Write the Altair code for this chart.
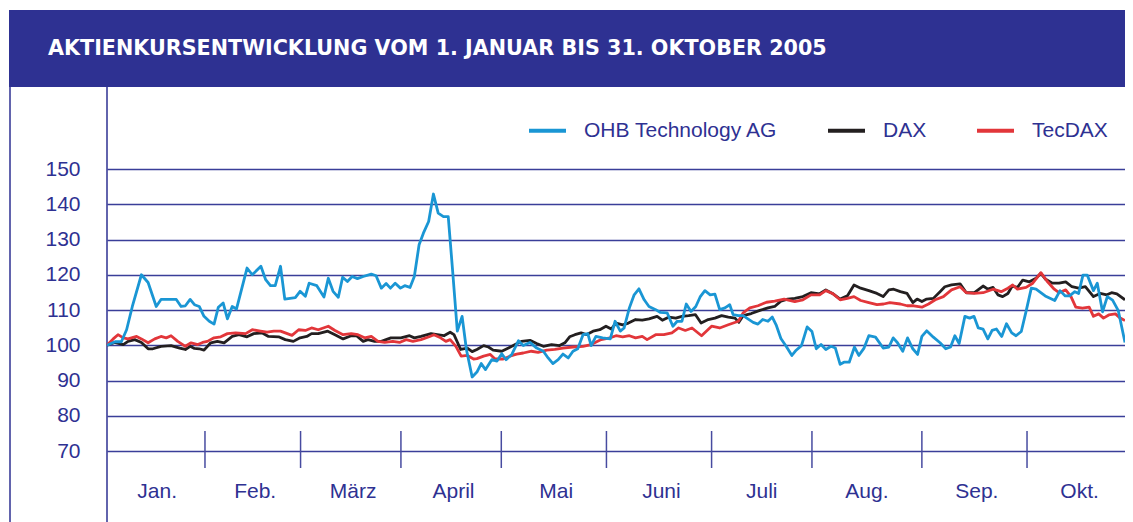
import altair as alt
import pandas as pd

TITLE = "AKTIENKURSENTWICKLUNG VOM 1. JANUAR BIS 31. OKTOBER 2005"
SERIES = ["OHB Technology AG", "DAX", "TecDAX"]
COLORS = ["#1A96D4", "#231F20", "#E2363A"]
MONTHS = ["Jan.", "Feb.", "März", "April", "Mai", "Juni", "Juli", "Aug.", "Sep.", "Okt."]
MONTH_CENTER = [10.5, 31, 51.5, 72.5, 94, 116, 137, 159, 182, 203.5]   # trading day index
MONTH_BOUND = [20.5, 40.5, 61.5, 82.5, 104.5, 126.5, 147.5, 170.5, 192.5]
Y_TICKS = [70, 80, 90, 100, 110, 120, 130, 140, 150]

ohb_day = [0.0, 1.7, 3.0, 4.1, 5.3, 7.2, 8.6, 10.3, 11.3, 14.5, 15.5, 16.4, 17.4, 18.3, 19.3, 20.3, 21.4, 22.4,
           23.3, 24.3, 25.2, 26.2, 27.1, 29.3, 30.4, 32.2, 33.2, 34.2, 35.2, 36.3, 37.2, 39.4, 40.4, 41.5, 42.3,
           43.9, 45.4, 46.3, 47.3, 48.4, 49.3, 50.3, 51.3, 52.4, 53.6, 55.3, 56.3, 57.4, 58.4, 59.3, 60.3, 61.4,
           62.3, 63.4, 64.3, 65.3, 66.2, 67.3, 68.3, 69.3, 70.4, 71.4, 72.3, 73.3, 74.3, 75.2, 76.4, 77.4, 78.3,
           79.2, 80.5, 81.6, 82.6, 83.5, 84.7, 86.1, 87.1, 88.5, 89.9, 91.3, 92.3, 93.3, 94.4, 95.4, 96.5, 97.5,
           98.5, 99.6, 100.6, 101.3, 102.3, 103.7, 105.3, 106.3, 107.4, 108.2, 109.3, 110.3, 111.3, 112.4, 113.4,
           114.8, 115.8, 117.2, 118.4, 119.3, 120.3, 121.2, 122.2, 123.2, 124.1, 125.1, 126.2, 127.2, 128.2,
           129.3, 130.3, 131.0, 132.1, 133.1, 134.1, 135.2, 136.2, 137.2, 138.3, 139.2, 140.0, 141.0, 142.1,
           143.3, 144.2, 145.3, 146.5, 147.5, 148.4, 149.4, 150.4, 151.5, 152.4, 153.4, 154.2, 155.3, 156.4,
           157.3, 158.4, 159.4, 160.8, 162.4, 163.6, 164.5, 165.4, 166.5, 167.5, 168.6, 169.6, 170.5, 171.5,
           172.9, 174.3, 175.5, 176.5, 177.4, 178.3, 179.5, 180.5, 181.4, 182.3, 183.3, 184.3, 185.2, 186.1,
           187.2, 188.2, 189.3, 190.2, 191.3, 192.3, 193.4, 194.4, 196.3, 198.3, 199.4, 200.5, 201.4, 202.5,
           203.3, 204.2, 205.1, 206.4, 207.2, 208.3, 209.3, 210.4, 211.6, 213.0]
ohb_val = [100, 101, 101, 104.4, 111, 120, 117.8, 111, 113, 113, 111, 111.2, 113, 111.5, 111, 108.2, 106.8, 106,
           110.8, 112, 107.5, 111, 110.3, 121.9, 120, 122.4, 118.6, 116.9, 116.9, 122.4, 113.1, 113.5, 115.3, 113.9,
           117.6, 116.9, 113.7, 119, 115.3, 113.6, 119.3, 118.1, 119.5, 118.9, 119.5, 120.2, 119.7, 116.2, 117.5,
           116.2, 117.6, 116.2, 116.9, 116.4, 119.5, 128.5, 131.8, 135.1, 142.9, 137.5, 136.5, 136.5, 121.4, 104,
           108.2, 98.8, 91, 92.4, 94.8, 93.1, 95.9, 95.5, 97.6, 95.9, 97.4, 101.3, 99.9, 100.8, 99.2, 98.3, 96.4,
           94.8, 95.9, 97.5, 96.4, 98.3, 99, 103, 103.3, 99.9, 102.5, 102.1, 101.8, 106.8, 104, 104.9, 110.6,
           114.3, 116, 112.9, 111, 110.1, 109.3, 109.2, 105.4, 106.8, 106.8, 111.7, 109.6, 111, 113.7, 115.5,
           114.3, 114.5, 110.1, 110.6, 111.5, 108.7, 108.4, 108.4, 107.5, 106.5, 106, 107.3, 106.8, 108, 105.8,
           101.9, 99.7, 97.1, 98.6, 99.9, 105.2, 103.9, 99, 100.2, 98.8, 99.7, 99.2, 94.6, 95.2, 95.2, 99.5,
           97.1, 99.2, 102.7, 102.3, 99.2, 99.5, 102.1, 100.7, 98.3, 102.1, 99, 97.4, 102.5, 104.1, 102.3,
           100.7, 99, 99.5, 102.7, 100.5, 108.2, 107.7, 108.2, 104.9, 104.6, 101.8, 104.2, 104.6, 102.5, 106.1,
           103.5, 102.7, 103.9, 109.6, 116.2, 115.9, 114, 112.7, 115.5, 114, 114, 115.2, 114.7, 119.9, 119.9,
           115.5, 117.6, 109.5, 113.8, 112.8, 109.8, 100.8]

dax_day = [0, 1.6, 3.4, 4.4, 5.8, 7.2, 8.6, 9.6, 11.3, 13.4, 15.2, 16.4, 17.4, 18.3, 19.3, 20.3, 21.7, 23.1, 24.5,
           26.2, 27.6, 29.3, 30.7, 32.5, 33.8, 35.9, 37.3, 39.0, 40.4, 41.8, 42.8, 44.2, 46.2, 47.7, 49.4, 51.1,
           52.2, 53.6, 54.6, 56.0, 57.4, 58.4, 59.4, 61.5, 63.3, 64.3, 65.7, 67.8, 69.1, 70.5, 71.8, 72.6, 74.0,
           75.4, 76.4, 77.4, 78.8, 79.8, 80.8, 82.6, 84.0, 85.4, 86.7, 88.5, 89.9, 91.3, 93.0, 94.7, 95.8, 96.8,
           97.9, 99.2, 100.3, 101.7, 103.1, 104.4, 105.5, 106.5, 107.9, 109.1, 110.6, 112.0, 113.4, 115.1, 116.2,
           117.6, 119.0, 120.3, 121.7, 123.1, 124.3, 125.8, 127.2, 128.6, 130.0, 131.4, 132.2, 133.1, 134.8,
           136.6, 138.3, 139.7, 141.0, 142.4, 143.9, 145.6, 147.3, 149.1, 150.4, 151.8, 153.4, 154.9, 156.3,
           157.7, 159.4, 161.1, 162.4, 163.6, 164.6, 166.0, 167.4, 168.6, 169.5, 170.5, 171.5, 172.9, 174.3,
           175.3, 176.7, 178.5, 179.8, 181.5, 183.3, 184.3, 185.4, 186.4, 187.4, 188.5, 189.4, 190.5, 191.6,
           193.0, 194.4, 195.4, 196.4, 197.8, 199.2, 200.6, 201.9, 203.3, 204.7, 206.4, 207.8, 209.2, 210.2,
           211.3, 213.0]
dax_val = [100, 100.8, 100.2, 101.1, 101.6, 100.8, 99, 99, 99.7, 99.9, 99.2, 98.8, 99.7, 99.1, 99, 98.6, 100.7,
           101.1, 100.7, 102.5, 103, 102.4, 103.3, 103.5, 102.5, 102.4, 101.6, 101.1, 102.1, 102.5, 103.3, 103.3,
           104, 103, 101.8, 102.7, 102.7, 101.1, 101.6, 101.1, 101.1, 101.6, 102.1, 102.1, 102.7, 102.1, 102.5,
           103.3, 103, 102.7, 103.7, 103, 98.8, 99.2, 98.2, 98.8, 99.9, 99.5, 98.6, 98.3, 99.2, 100.2, 101.1,
           101.4, 100.5, 99.7, 100.2, 99.9, 100.7, 102.4, 103, 103.5, 103, 104, 104.4, 105.4, 104.6, 106.3,
           105.8, 106.3, 107.3, 107.1, 107.5, 108.2, 107.1, 108, 107.7, 108.2, 108.4, 108.7, 106.3, 107.3,
           107.7, 108.4, 108, 107.7, 106.5, 108.4, 109, 109.9, 110.6, 111, 112.5, 113.1, 113.3, 113.8, 114.9,
           114.6, 115.7, 114.7, 113.1, 114, 117.1, 116.2, 115.5, 114.7, 113.8, 115.7, 115.9, 115.2, 114.7,
           112.1, 113.1, 112.4, 113.1, 113.3, 115.2, 116.6, 117.1, 117.4, 114.9, 114.9, 116.8, 115.9, 116.4,
           114.3, 113.8, 114.7, 116.8, 116.4, 118.5, 118, 119, 120.4, 118.7, 117.6, 117.6, 118, 116.6, 116.2,
           116.6, 113.8, 114.7, 114.3, 114.9, 114.6, 112.9]

tec_day = [0, 1.3, 2.3, 3.4, 4.4, 6.2, 7.2, 8.6, 10.0, 11.3, 12.4, 13.4, 14.8, 16.4, 17.6, 19.0, 20.0, 21.0, 22.4,
           23.8, 25.2, 26.9, 29.0, 30.4, 32.1, 33.5, 34.9, 36.3, 37.3, 38.7, 40.1, 41.5, 42.8, 44.2, 46.3, 47.7,
           49.4, 51.1, 52.5, 53.9, 55.3, 56.7, 58.1, 59.8, 61.2, 62.6, 64.0, 65.7, 67.4, 68.4, 69.8, 70.9, 71.8,
           73.0, 74.1, 75.4, 76.7, 77.4, 78.8, 80.2, 81.2, 82.9, 84.3, 85.7, 87.1, 88.8, 90.2, 92.0, 93.7, 95.4,
           97.5, 99.6, 101.3, 103.4, 105.2, 106.5, 107.9, 109.3, 110.6, 112.0, 113.0, 114.8, 116.5, 118.2, 119.6,
           121.0, 122.4, 124.4, 126.5, 128.2, 130.0, 132.1, 133.1, 134.5, 136.2, 138.0, 139.7, 141.7, 143.9,
           145.6, 147.3, 149.1, 150.4, 151.8, 153.4, 154.9, 156.3, 157.7, 159.4, 161.1, 162.5, 163.8, 166.0,
           167.4, 168.8, 170.5, 171.9, 173.3, 175.0, 176.7, 178.5, 179.8, 181.5, 183.3, 185.4, 187.1, 188.5,
           189.5, 190.5, 192.3, 193.7, 195.4, 196.8, 198.2, 199.2, 200.6, 201.7, 202.7, 204.1, 205.5, 206.4,
           207.5, 208.5, 209.6, 211.0, 212.0, 213.0]
tec_val = [100, 101.8, 103, 102.1, 101.8, 102.5, 101.8, 100.7, 101.8, 102.5, 102.1, 102.7, 101.1, 99.7, 100.7,
           100.2, 100.8, 101.1, 102.1, 102.4, 103.3, 103.5, 103.3, 104.4, 104, 103.7, 104, 104, 103.5, 102.8,
           104.4, 104.2, 104.9, 104.4, 105.4, 104.2, 103, 103.3, 103, 102.1, 102.5, 101.1, 100.8, 101.1, 100.8,
           101.6, 101.1, 101.6, 102.4, 103, 102.1, 101.1, 101.6, 99.7, 96.9, 97.1, 96.1, 96.2, 96.9, 97.4, 96.1,
           96.1, 96.9, 97.5, 97.8, 98.3, 98, 98.6, 98.8, 99.2, 99.5, 99.7, 100.2, 101.6, 102.1, 102.7, 102.4,
           102.7, 102.1, 102.5, 101.6, 103, 103, 103.5, 104.9, 104.2, 104.9, 102.7, 105.4, 104.9, 105.8, 106.8,
           109.2, 110.6, 111.2, 112.2, 112.5, 113.1, 112.4, 112.9, 114.3, 114.3, 115.5, 114.7, 112.9, 113.3,
           113.8, 112.7, 112.1, 111.5, 111.7, 112.1, 111.7, 111.2, 111.2, 110.8, 111.7, 112.9, 113.8, 115.7,
           116.6, 114.9, 114.7, 114.9, 115.9, 115.2, 116.2, 117.1, 115.9, 116.4, 117.6, 120.6, 118, 115.9,
           114.9, 115.7, 113.8, 110.8, 110.5, 110.8, 108.2, 108.9, 107.7, 108.6, 108.9, 107.7, 107]

INK = "#2E3192"
W, H = 1018, 282
FS = 21

rows = []
for name, days, vals in [(SERIES[0], ohb_day, ohb_val), (SERIES[1], dax_day, dax_val), (SERIES[2], tec_day, tec_val)]:
    for d, v in zip(days, vals):
        rows.append({"day": d, "value": v, "series": name})
df = pd.DataFrame(rows)

xscale = alt.Scale(domain=[0, 213], nice=False, zero=False)
yscale = alt.Scale(domain=[70, 150], nice=False, zero=False)
color = alt.Color(
    "series:N",
    scale=alt.Scale(domain=SERIES, range=COLORS),
    legend=alt.Legend(
        orient="none", legendX=420, legendY=-59, direction="horizontal", title=None,
        symbolType="stroke", symbolSize=1369, symbolStrokeWidth=4, labelFontSize=FS,
        labelFont="Liberation Sans", labelColor=INK, labelOffset=16, columnPadding=42,
        labelLimit=400, padding=0,
    ),
)
yaxis = alt.Axis(values=Y_TICKS, grid=True, gridColor="#3A3E99", gridWidth=1.5, domain=False, ticks=False,
                 labelFontSize=FS, labelFont="Liberation Sans", labelColor=INK, labelPadding=27, title=None)

base = alt.Chart(df)


def series_layer(name):
    return base.transform_filter(alt.datum.series == name).mark_line(strokeWidth=2.8, strokeJoin="round").encode(
        x=alt.X("day:Q", scale=xscale, axis=None),
        y=alt.Y("value:Q", scale=yscale, axis=yaxis),
        color=color,
    )


one = pd.DataFrame({"t": [TITLE]})
banner = alt.Chart(one).mark_rect(color=INK).encode(
    x=alt.value(-98), x2=alt.value(W), y=alt.value(-159), y2=alt.value(-82))
title = alt.Chart(one).mark_text(font="DejaVu Sans", fontWeight="bold", fontSize=20.7, color="white",
                                 align="left", baseline="middle").encode(
    x=alt.value(-59), y=alt.value(-120), text="t:N")
frame_l = alt.Chart(one).mark_rule(color=INK, strokeWidth=1.5).encode(
    x=alt.value(-97), y=alt.value(-82), y2=alt.value(353))
frame_p = alt.Chart(one).mark_rule(color=INK, strokeWidth=1.5).encode(
    x=alt.value(0), y=alt.value(-82), y2=alt.value(353))

ticks = alt.Chart(pd.DataFrame({"b": MONTH_BOUND})).mark_rule(color="#474BA0", strokeWidth=1.5).encode(
    x=alt.X("b:Q", scale=xscale, axis=None), y=alt.value(262), y2=alt.value(299))
mlabels = alt.Chart(pd.DataFrame({"c": MONTH_CENTER, "m": MONTHS})).mark_text(
    font="Liberation Sans", fontSize=FS, color=INK, baseline="middle", align="center").encode(
    x=alt.X("c:Q", scale=xscale, axis=None), y=alt.value(323), text="m:N")

chart = alt.layer(
    banner, title, frame_l, frame_p, ticks, mlabels,
    series_layer("DAX"), series_layer("TecDAX"), series_layer("OHB Technology AG"),
).properties(
    width=W, height=H,
    autosize=alt.AutoSizeParams(type="none"),
    padding={"left": 99, "top": 161, "right": 0, "bottom": 71},
    background="white",
).configure_view(stroke="transparent")

chart.save("out.html", embed_options={"renderer": "svg", "actions": False})
